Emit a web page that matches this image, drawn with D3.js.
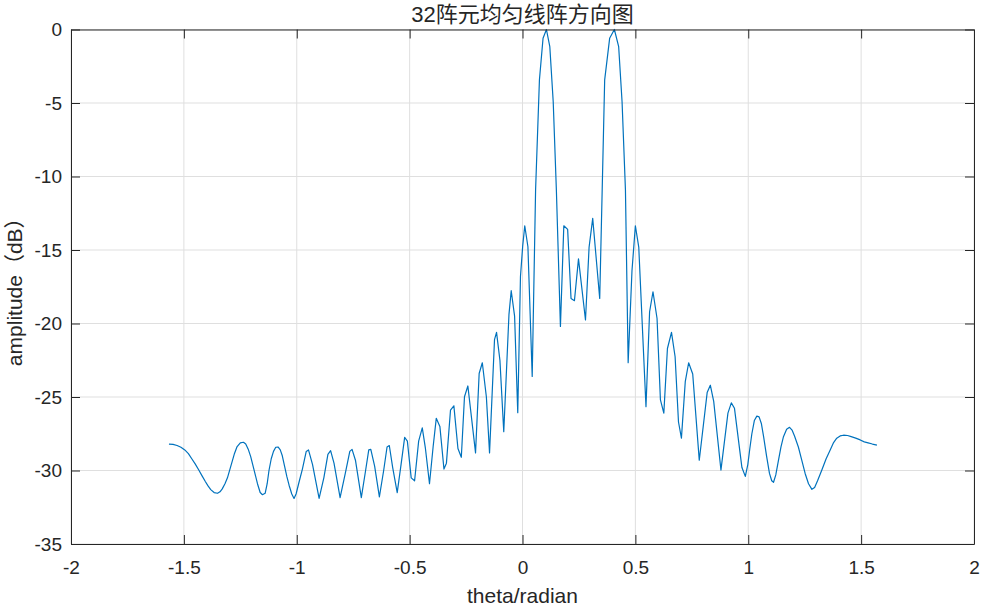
<!DOCTYPE html>
<html>
<head>
<meta charset="utf-8">
<script src="https://cdn.jsdelivr.net/npm/d3@7"></script>
<style>
  html, body { margin: 0; padding: 0; background: #fff; }
  svg { display: block; }
  text { font-family: "Liberation Sans", Arial, "Noto Sans CJK SC", sans-serif; fill: #262626; }
</style>
</head>
<body>
<svg id="chart" width="981" height="607"></svg>
<script>
// ---- data ----
const titleText = "32阵元均匀线阵方向图";
const xLabel = "theta/radian";
const yLabel = "amplitude（dB）";
const xTicks = [-2, -1.5, -1, -0.5, 0, 0.5, 1, 1.5, 2];
const yTicks = [0, -5, -10, -15, -20, -25, -30, -35];

const theta = [
  -1.566, -1.548, -1.530, -1.513, -1.496, -1.480, -1.465, -1.450, -1.434, -1.420,
  -1.405, -1.393, -1.381, -1.366, -1.351, -1.340, -1.330, -1.318, -1.307, -1.292,
  -1.277, -1.265, -1.250, -1.236, -1.226, -1.215, -1.204, -1.190, -1.174, -1.162,
  -1.152, -1.140, -1.131, -1.123, -1.113, -1.103, -1.093, -1.083, -1.073, -1.064,
  -1.054, -1.044, -1.034, -1.022, -1.012, -1.003,
  -0.990, -0.975, -0.958, -0.948,
  -0.930, -0.901, -0.880, -0.862, -0.850, -0.835, -0.808, -0.785, -0.765, -0.755,
  -0.740, -0.714, -0.695, -0.681, -0.672, -0.655, -0.634, -0.615, -0.600, -0.590,
  -0.575, -0.555, -0.538, -0.522, -0.510, -0.493, -0.478, -0.460, -0.444, -0.430,
  -0.412, -0.396, -0.382, -0.366, -0.348, -0.337, -0.319, -0.304, -0.286, -0.271,
  -0.257, -0.242, -0.208, -0.192, -0.178, -0.160, -0.146, -0.124, -0.115, -0.100,
  -0.083, -0.060, -0.050, -0.035, -0.021, -0.009, 0.001, 0.010, 0.024, 0.043,
  0.058, 0.075, 0.091, 0.106, 0.121, 0.136, 0.150, 0.168, 0.183, 0.200,
  0.215, 0.230, 0.248, 0.279, 0.295, 0.311, 0.342, 0.353, 0.364, 0.386,
  0.407, 0.426, 0.441, 0.456, 0.468, 0.485, 0.500, 0.515, 0.547, 0.563,
  0.578, 0.596, 0.611, 0.626, 0.642, 0.660, 0.676, 0.691, 0.704, 0.721,
  0.736, 0.754, 0.783, 0.818, 0.832, 0.847, 0.879, 0.910, 0.925, 0.939,
  0.972, 0.987, 0.998, 1.007, 1.016, 1.027, 1.038, 1.048, 1.058, 1.068,
  1.081, 1.094, 1.104, 1.112, 1.122, 1.134, 1.145, 1.156, 1.170, 1.183,
  1.194, 1.205, 1.222, 1.237, 1.252, 1.267, 1.282, 1.294, 1.307, 1.326,
  1.345, 1.363, 1.378, 1.392, 1.407, 1.422, 1.440, 1.456, 1.476, 1.496,
  1.514, 1.531, 1.550, 1.570
];
const amplitude = [
  -28.2, -28.22, -28.3, -28.42, -28.6, -28.85, -29.2, -29.55, -29.97, -30.35,
  -30.75, -31.05, -31.3, -31.5, -31.55, -31.45, -31.25, -30.9, -30.5, -29.7,
  -28.9, -28.4, -28.12, -28.08, -28.2, -28.55, -29.06, -29.9, -30.9, -31.5,
  -31.65, -31.55, -30.9, -30.0, -29.2, -28.7, -28.42, -28.4, -28.6, -29.0,
  -29.7, -30.4, -31.0, -31.6, -31.9, -31.6,
  -30.8, -29.9, -28.7, -28.6,
  -29.6, -31.9, -30.5, -28.9, -28.65, -29.5, -31.85, -30.2, -28.7, -28.56,
  -29.3, -31.85, -30.0, -28.6, -28.56, -29.7, -31.8, -30.0, -28.4, -28.3,
  -29.8, -31.5, -29.6, -27.75, -28.0, -30.5, -30.7, -28.0, -27.1, -28.5,
  -30.9, -28.4, -26.45, -27.0, -29.9, -29.5, -25.9, -25.6, -28.5, -29.1,
  -24.98, -24.25, -28.8, -23.4, -22.67, -25.0, -28.8, -21.1, -20.6, -22.5,
  -27.36, -19.4, -17.77, -19.5, -26.07, -16.8, -14.7, -13.35, -14.78, -23.6,
  -10.9, -3.43, -0.6, 0, -1.17, -4.9, -10.9, -20.2, -13.35, -13.6,
  -18.3, -18.45, -15.6, -19.76, -14.8, -12.85, -18.3, -10.9, -3.43, -0.6,
  0, -1.17, -4.9, -10.9, -22.67, -16.4, -13.35, -14.8, -25.66, -19.2,
  -17.84, -19.66, -25.2, -26.1, -21.7, -20.6, -22.26, -26.7, -27.8, -23.96,
  -22.67, -23.44, -29.3, -24.7, -24.2, -25.3, -29.97, -26.1, -25.4, -25.77,
  -29.8, -30.4, -29.6, -28.5, -27.5, -26.6, -26.3, -26.35, -26.8, -27.7,
  -29.0, -30.2, -30.7, -30.8, -30.3, -29.3, -28.4, -27.7, -27.2, -27.06,
  -27.25, -27.65, -28.4, -29.3, -30.2, -30.9, -31.28, -31.15, -30.7, -29.97,
  -29.2, -28.6, -28.1, -27.8, -27.65, -27.6, -27.62, -27.7, -27.8, -27.92,
  -28.05, -28.12, -28.2, -28.27
];

// ---- layout ----
const W = 981, H = 607;
const margin = { left: 71, right: 7, top: 29.5, bottom: 63 };
const svg = d3.select("#chart");
const innerW = W - margin.left - margin.right;
const innerH = H - margin.top - margin.bottom;

const x = d3.scaleLinear().domain([-2, 2]).range([margin.left, margin.left + innerW]);
const y = d3.scaleLinear().domain([-35, 0]).range([margin.top + innerH, margin.top]);

const gridColor = "#dfdfdf";
const axisColor = "#262626";
const tickFont = 19;
const fmt = d => String(d); // ASCII hyphen-minus like the reference

// grid
const grid = svg.append("g");
grid.selectAll("line.gx").data(xTicks).join("line")
  .attr("x1", d => x(d)).attr("x2", d => x(d))
  .attr("y1", margin.top).attr("y2", margin.top + innerH)
  .attr("stroke", gridColor).attr("stroke-width", 1);
grid.selectAll("line.gy").data(yTicks).join("line")
  .attr("y1", d => y(d)).attr("y2", d => y(d))
  .attr("x1", margin.left).attr("x2", margin.left + innerW)
  .attr("stroke", gridColor).attr("stroke-width", 1);

// data line
const line = d3.line().x((d, i) => x(theta[i])).y(d => y(d));
svg.append("path")
  .datum(amplitude)
  .attr("d", line)
  .attr("fill", "none")
  .attr("stroke", "#0072BD")
  .attr("stroke-width", 1.2)
  .attr("stroke-linejoin", "round");

// axes (ticks inside, MATLAB style)
const tickLen = 9;
const xAxisB = d3.axisBottom(x).tickValues(xTicks).tickSizeInner(-tickLen).tickSizeOuter(0)
  .tickPadding(tickLen + 8).tickFormat(fmt);
const gxb = svg.append("g").attr("transform", `translate(0,${margin.top + innerH})`).call(xAxisB);
const xAxisT = d3.axisTop(x).tickValues(xTicks).tickSizeInner(-tickLen).tickSizeOuter(0).tickFormat("");
const gxt = svg.append("g").attr("transform", `translate(0,${margin.top})`).call(xAxisT);
const yAxisL = d3.axisLeft(y).tickValues(yTicks).tickSizeInner(-tickLen).tickSizeOuter(0)
  .tickPadding(9).tickFormat(fmt);
const gyl = svg.append("g").attr("transform", `translate(${margin.left},0)`).call(yAxisL);
const yAxisR = d3.axisRight(y).tickValues(yTicks).tickSizeInner(-tickLen).tickSizeOuter(0).tickFormat("");
const gyr = svg.append("g").attr("transform", `translate(${margin.left + innerW},0)`).call(yAxisR);

[gxb, gxt, gyl, gyr].forEach(g => {
  g.select(".domain").attr("stroke", axisColor).attr("stroke-width", 1);
  g.selectAll(".tick line").attr("stroke", axisColor).attr("stroke-width", 1);
  g.selectAll(".tick text").attr("fill", axisColor)
    .style("font-size", tickFont + "px")
    .style("font-family", '"Liberation Sans", Arial, sans-serif');
});

// title
svg.append("text")
  .attr("x", x(0)).attr("y", 22)
  .attr("text-anchor", "middle")
  .style("font-size", "22px")
  .style("font-family", '"Liberation Sans", "Noto Sans CJK SC", sans-serif')
  .attr("fill", "#000")
  .text(titleText);

// x label
svg.append("text")
  .attr("x", x(0)).attr("y", 603)
  .attr("text-anchor", "middle")
  .style("font-size", "21px")
  .text(xLabel);

// y label
svg.append("text")
  .attr("transform", `translate(22,${y(-17.5)}) rotate(-90)`)
  .attr("text-anchor", "middle")
  .style("font-size", "21px")
  .style("font-family", '"Liberation Sans", "Noto Sans CJK SC", sans-serif')
  .text(yLabel);
</script>
</body>
</html>
